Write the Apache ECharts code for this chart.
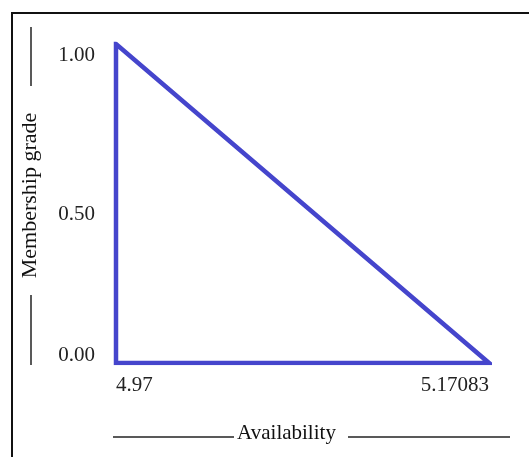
<!DOCTYPE html>
<html>
<head>
<meta charset="utf-8">
<script src="https://cdn.jsdelivr.net/npm/echarts@6/dist/echarts.min.js"></script>
<style>
  html, body { margin: 0; padding: 0; background: #fff; }
  #chart { width: 529px; height: 457px; }
</style>
</head>
<body>
<div id="chart"></div>
<script>
// Triangular membership function for availability
const availability = [4.97, 4.97, 5.17083, 4.97];
const membership = [0, 1, 0, 0];
const xTickValues = [4.97, 5.17083];
const xTickLabels = ['4.97', '5.17083'];
const yTickValues = [0, 0.5, 1];
const yTickLabels = ['0.00', '0.50', '1.00'];

const points = availability.map((x, i) => [x, membership[i]]);

const serif = '"Liberation Serif", "DejaVu Serif", serif';
const lineColor = '#222';

const chart = echarts.init(document.getElementById('chart'), null, { renderer: 'canvas' });

chart.setOption({
  animation: false,
  backgroundColor: '#fff',
  grid: { left: 116, right: 40, top: 44, bottom: 94, containLabel: false },
  xAxis: {
    type: 'value',
    min: xTickValues[0],
    max: xTickValues[xTickValues.length - 1],
    name: 'Availability',
    nameLocation: 'middle',
    nameGap: 60,
    nameTextStyle: { fontFamily: serif, fontSize: 21, color: '#111', padding: [0, 32, 0, 0] },
    axisLine: { show: false },
    axisTick: { show: false },
    splitLine: { show: false },
    axisLabel: {
      customValues: xTickValues,
      formatter: v => xTickLabels[xTickValues.indexOf(v)] ?? String(v),
      fontFamily: serif,
      fontSize: 21,
      color: '#222',
      margin: 12,
      alignMinLabel: 'left',
      alignMaxLabel: 'right'
    }
  },
  yAxis: {
    type: 'value',
    min: 0,
    max: 1,
    interval: 0.5,
    name: 'Membership grade',
    nameLocation: 'middle',
    nameGap: 75,
    nameTextStyle: { fontFamily: serif, fontSize: 22, color: '#111', padding: [0, 0, 0, 16] },
    axisLine: { show: false },
    axisTick: { show: false },
    splitLine: { show: false },
    axisLabel: {
      customValues: yTickValues,
      formatter: v => {
        const text = yTickLabels[yTickValues.indexOf(v)];
        return v === 0 ? '{low|' + text + '}' : '{high|' + text + '}';
      },
      fontFamily: serif,
      fontSize: 21,
      color: '#222',
      margin: 21,
      rich: {
        high: { fontFamily: serif, fontSize: 21, color: '#222', padding: [22, 0, 0, 0] },
        low: { fontFamily: serif, fontSize: 21, color: '#222', padding: [0, 0, 16, 0] }
      }
    }
  },
  graphic: [
    // frame on the left and top
    { type: 'polyline', silent: true, shape: { points: [[12, 457], [12, 13], [529, 13]] },
      style: { stroke: '#111', lineWidth: 2, fill: null } },
    // rules beside the y-axis title
    { type: 'line', silent: true, shape: { x1: 31, y1: 27, x2: 31, y2: 86 },
      style: { stroke: lineColor, lineWidth: 1.5 } },
    { type: 'line', silent: true, shape: { x1: 31, y1: 295, x2: 31, y2: 365 },
      style: { stroke: lineColor, lineWidth: 1.5 } },
    // rules beside the x-axis title
    { type: 'line', silent: true, shape: { x1: 113, y1: 437, x2: 234, y2: 437 },
      style: { stroke: lineColor, lineWidth: 1.5 } },
    { type: 'line', silent: true, shape: { x1: 348, y1: 437, x2: 510, y2: 437 },
      style: { stroke: lineColor, lineWidth: 1.5 } }
  ],
  series: [{
    type: 'line',
    data: points,
    showSymbol: false,
    symbol: 'none',
    lineStyle: { color: '#4545cc', width: 4.5, join: 'miter', cap: 'square' }
  }]
});
</script>
</body>
</html>
